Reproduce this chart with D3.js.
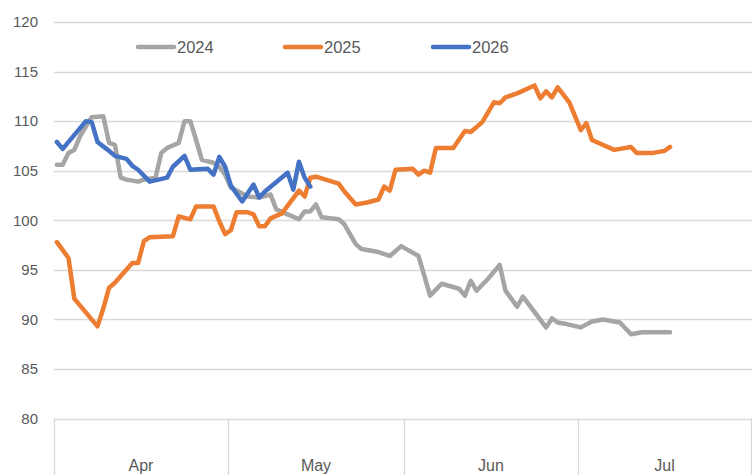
<!DOCTYPE html>
<html>
<head>
<meta charset="utf-8">
<script src="https://cdn.jsdelivr.net/npm/d3@7"></script>
<style>
  html, body { margin: 0; padding: 0; background: #fff; }
  svg { display: block; font-family: "Liberation Sans", Arial, sans-serif; }
</style>
</head>
<body>
<svg id="chart" width="752" height="475"></svg>
<script>
// ---- data ----
const seriesNames = ["2024", "2025", "2026"];
const seriesColors = ["#A5A5A5", "#ED7D31", "#4472C4"];
const monthLabels = ["Apr", "May", "Jun", "Jul"];
const monthStarts = ["04-01", "05-01", "06-01", "07-01", "08-01"];
const yTicks = [80, 85, 90, 95, 100, 105, 110, 115, 120];

const dates2024 = ["04-01","04-02","04-03","04-04","04-05","04-07","04-09","04-10","04-11","04-12","04-13","04-15","04-16","04-18","04-19","04-20","04-22","04-23","04-24","04-25","04-26","04-28","04-29","04-30",
  "05-01","05-04","05-06","05-08","05-09","05-11","05-13","05-14","05-15","05-16","05-17","05-20","05-21","05-23","05-24","05-27","05-29","05-31",
  "06-03","06-05","06-07","06-10","06-11","06-12","06-13","06-15","06-17","06-18","06-20","06-21","06-25","06-26","06-27","06-28",
  "07-01","07-03","07-05","07-08","07-10","07-12","07-17"];
const values2024 = [105.6,105.6,106.8,107.1,108.5,110.4,110.5,107.8,107.6,104.3,104.1,103.9,104.1,104.3,106.8,107.3,107.8,110.0,110.0,108.1,106.1,105.8,105.4,104.6,
  103.3,102.4,102.3,102.6,101.1,100.6,100.1,100.9,100.9,101.6,100.3,100.1,99.6,97.6,97.1,96.8,96.4,97.4,
  96.4,92.4,93.6,93.1,92.4,93.9,92.9,94.1,95.5,92.9,91.3,92.3,89.2,90.1,89.7,89.6,
  89.2,89.8,90.0,89.7,88.5,88.7,88.7];

const dates2025 = ["04-01","04-03","04-04","04-08","04-09","04-10","04-11","04-14","04-15","04-16","04-17","04-21","04-22","04-24","04-25","04-28","04-29","04-30",
  "05-01","05-02","05-04","05-05","05-06","05-07","05-08","05-10","05-13","05-14","05-15","05-16","05-20","05-21","05-23","05-25","05-27","05-28","05-29","05-30",
  "06-02","06-03","06-04","06-05","06-06","06-09","06-11","06-12","06-14","06-16","06-17","06-18","06-20","06-23","06-24","06-25","06-26","06-27","06-29",
  "07-01","07-02","07-03","07-05","07-07","07-10","07-11","07-14","07-16","07-17"];
const values2025 = [97.8,96.2,92.1,89.3,91.1,93.2,93.7,95.7,95.7,97.9,98.3,98.4,100.4,100.1,101.4,101.4,99.9,98.6,
  99.0,100.8,100.8,100.6,99.4,99.4,100.2,100.7,103.0,102.4,104.3,104.4,103.7,102.9,101.6,101.8,102.1,103.4,103.0,105.1,
  105.2,104.6,105.0,104.8,107.3,107.3,109.0,108.9,109.9,111.9,111.8,112.4,112.8,113.6,112.3,113.0,112.4,113.4,111.9,
  109.1,109.8,108.1,107.6,107.1,107.4,106.8,106.8,107.0,107.4];

const dates2026 = ["04-01","04-02","04-06","04-07","04-08","04-10","04-11","04-13","04-14","04-15","04-17","04-20","04-21","04-23","04-24","04-27","04-28","04-29","04-30",
  "05-01","05-03","05-05","05-06","05-07","05-11","05-12","05-13","05-14","05-15"];
const values2026 = [107.9,107.2,110.0,109.9,107.9,107.0,106.5,106.2,105.5,105.1,103.9,104.3,105.4,106.5,105.1,105.2,104.6,106.4,105.4,
  103.5,101.9,103.6,102.3,102.9,104.8,103.1,105.9,104.3,103.4];

// ---- chart ----
const svg = d3.select("#chart");
const parse = s => d3.timeParse("%Y-%m-%d %H")("2001-" + s + " 12");
const parseDay = s => d3.timeParse("%Y-%m-%d")("2001-" + s);

const plotLeft = 54, plotTop = 22, plotBottom = 418.6;
const boundaries = monthStarts.map(parseDay);
const x = d3.scaleTime()
  .domain(boundaries)
  .range([54, 228, 404, 578, 751]);
const y = d3.scaleLinear().domain([80, 120]).range([plotBottom, plotTop]);

// gridlines
svg.append("g").selectAll("line").data(yTicks).join("line")
  .attr("x1", plotLeft).attr("x2", 752)
  .attr("y1", d => Math.round(y(d)) + 0.5).attr("y2", d => Math.round(y(d)) + 0.5)
  .attr("stroke", "#D9D9D9").attr("stroke-width", 1.3);

// y axis labels
const yAxis = d3.axisLeft(y).tickValues(yTicks).tickSize(0).tickPadding(0);
const gy = svg.append("g").attr("transform", "translate(38,0)").call(yAxis);
gy.select(".domain").remove();
gy.selectAll("text")
  .attr("font-family", "'Liberation Sans', Arial, sans-serif")
  .attr("font-size", 15).attr("fill", "#595959");

// month dividers
svg.append("g").selectAll("line").data(boundaries).join("line")
  .attr("x1", d => Math.round(x(d)) + 0.5).attr("x2", d => Math.round(x(d)) + 0.5)
  .attr("y1", plotBottom).attr("y2", 475)
  .attr("stroke", "#D9D9D9").attr("stroke-width", 1.3);

// month labels
svg.append("g").selectAll("text").data(monthLabels).join("text")
  .attr("x", (d, i) => (x(boundaries[i]) + x(boundaries[i + 1])) / 2)
  .attr("y", 471)
  .attr("text-anchor", "middle")
  .attr("font-size", 16).attr("fill", "#595959")
  .text(d => d);

// lines
const allDates = [dates2024, dates2025, dates2026];
const allValues = [values2024, values2025, values2026];
const line = d3.line().x(d => x(d[0])).y(d => y(d[1]));
allDates.forEach((ds, i) => {
  const pts = ds.map((d, j) => [parse(d), allValues[i][j]]);
  svg.append("path").datum(pts)
    .attr("d", line)
    .attr("fill", "none")
    .attr("stroke", seriesColors[i])
    .attr("stroke-width", 4.5)
    .attr("stroke-linejoin", "round")
    .attr("stroke-linecap", "round");
});

// legend
const legendX = [137, 284, 432];
const lg = svg.append("g").selectAll("g").data(seriesNames).join("g")
  .attr("transform", (d, i) => `translate(${legendX[i]},47)`);
lg.append("line").attr("x1", 1).attr("x2", 37).attr("y1", 0).attr("y2", 0)
  .attr("stroke", (d, i) => seriesColors[i]).attr("stroke-width", 4.5).attr("stroke-linecap", "round");
lg.append("text").attr("x", 40).attr("y", 6)
  .attr("font-size", 16.5).attr("fill", "#595959").text(d => d);
</script>
</body>
</html>
